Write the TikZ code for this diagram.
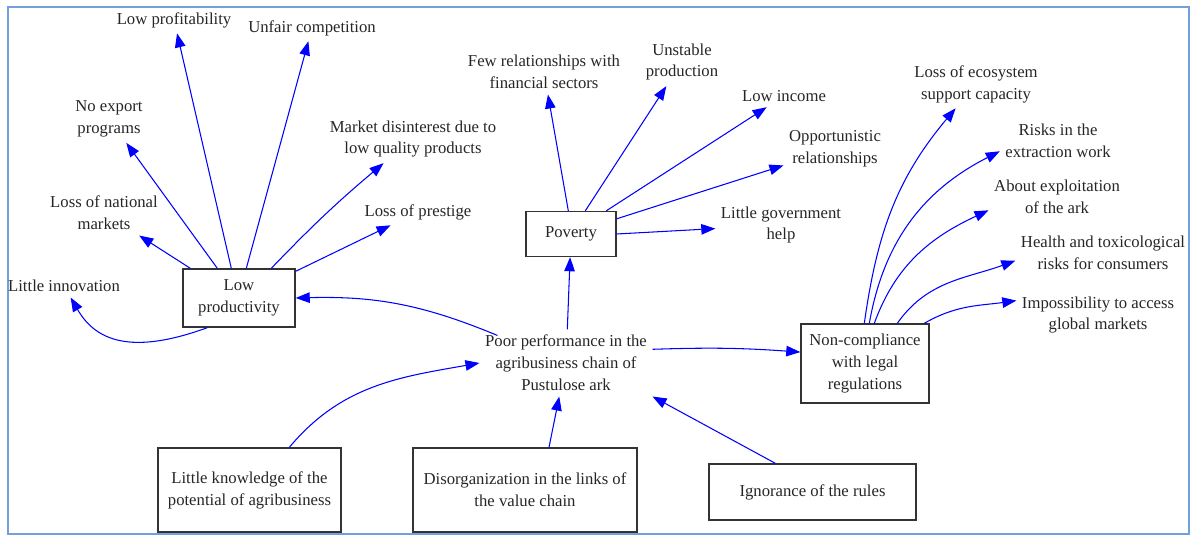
\documentclass[tikz,border=0pt]{standalone}
\usepackage{fontspec}
\setmainfont{Liberation Serif}
\usetikzlibrary{arrows.meta,calc}

\begin{document}
\begin{tikzpicture}[x=0.02cm,y=0.02cm,
  lbl/.style={align=center,inner sep=3pt,text=black!85,font=\fontsize{9.5}{12.5}\selectfont},
  box/.style={lbl,draw=black!80,line width=0.8pt,inner sep=2pt},
  link/.style={blue,line width=0.6pt,-{Triangle[length=8pt,width=6pt]}},
  frame/.style={draw={rgb,255:red,115;green,160;blue,220},line width=1.2pt}]
\useasboundingbox (0,0) rectangle (1192,-536);
\draw[frame] (8,-7) rectangle (1189,-534);
% low productivity and its effects
\node[box,minimum width=2.24cm,minimum height=1.16cm] (lowprod) at (239,-298) {Low\\productivity};
\node[lbl] (lprof) at (174,-20) {Low profitability};
\node[lbl] (unfair) at (312,-28) {Unfair competition};
\node[lbl] (noexp) at (109,-119) {No export\\programs};
\node[lbl] (mkt) at (413,-139) {Market disinterest due to\\low quality products};
\node[lbl] (natmk) at (104,-213) {Loss of national\\markets};
\node[lbl] (prest) at (418,-212) {Loss of prestige};
\node[lbl] (innov) at (64,-286) {Little innovation};
% poverty
\node[box,minimum width=1.8cm,minimum height=0.9cm] (pov) at (571,-234) {Poverty};
\node[lbl] (few) at (544,-72) {Few relationships with\\financial sectors};
\node[lbl] (unst) at (682,-62) {Unstable\\production};
\node[lbl] (lowinc) at (784,-96) {Low income};
\node[lbl] (opp) at (835,-149) {Opportunistic\\relationships};
\node[lbl] (govt) at (781,-225) {Little government\\help};
% central problem
\node[lbl] (poor) at (566,-363) {Poor performance in the\\agribusiness chain of\\Pustulose ark};
% non-compliance
\node[box,minimum width=2.56cm,minimum height=1.58cm] (noncomp) at (865,-363.5) {Non-compliance\\with legal\\regulations};
\node[lbl] (eco) at (976,-84) {Loss of ecosystem\\support capacity};
\node[lbl] (risk) at (1058,-141) {Risks in the\\extraction work};
\node[lbl] (expl) at (1057,-197) {About exploitation\\of the ark};
\node[lbl] (health) at (1103,-253) {Health and toxicological\\risks for consumers};
\node[lbl] (imposs) at (1098,-315) {Impossibility to access\\global markets};
% causes
\node[box,minimum width=3.66cm,minimum height=1.68cm] (know) at (249.5,-490) {Little knowledge of the\\potential of agribusiness};
\node[box,minimum width=4.48cm,minimum height=1.68cm] (disorg) at (525,-490) {Disorganization in the links of\\the value chain};
\node[box,minimum width=4.14cm,minimum height=1.12cm] (ignor) at (812.5,-492) {Ignorance of the rules};
\path[link]
    ($(lowprod.north west)+(8,0)$) edge (natmk)
    ($(lowprod.north west)+(35,0)$) edge (noexp)
    ($(lowprod.north west)+(49,0)$) edge (lprof)
    ($(lowprod.north west)+(64,0)$) edge (unfair)
    ($(lowprod.north west)+(89,0)$) edge[bend left=3] (mkt)
    ($(lowprod.north east)+(0,-3)$) edge (prest)
    ($(lowprod.south west)+(25,0)$) edge[out=200,in=-60,out looseness=1.5,in looseness=0.9] (innov);
\path[link]
    ($(pov.north west)+(43,0)$) edge (few)
    ($(pov.north west)+(60,0)$) edge (unst)
    ($(pov.north west)+(81,0)$) edge (lowinc)
    ($(pov.north east)+(0,-8)$) edge (opp)
    (pov.east) edge (govt);
\path[link]
    ($(poor.north west)+(18,-6)$) edge[bend right=12] (lowprod.east)
    (poor) edge (pov)
    (poor.9) edge[bend left=3] (noncomp.170)
    ($(know.north west)+(132,0)$) edge[out=50,in=190] (poor.west)
    ($(disorg.north)+(24,0)$) edge (poor)
    ($(ignor.north west)+(67,0)$) edge (poor.south east);
\path[link]
    ($(noncomp.north west)+(64,0)$) edge[out=82,in=-130] (eco.230)
    ($(noncomp.north west)+(69,0)$) edge[out=80,in=-153] (risk.190)
    ($(noncomp.north west)+(74,0)$) edge[out=70,in=-155] (expl.191)
    ($(noncomp.north west)+(97,0)$) edge[out=55,in=-160] (health.185)
    ($(noncomp.north west)+(124,0)$) edge[out=30,in=-172] (imposs.170);
\end{tikzpicture}
\end{document}
